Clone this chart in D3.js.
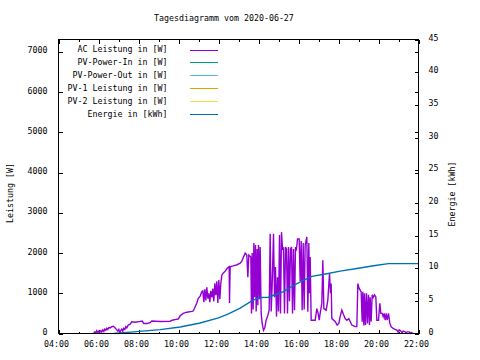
<!DOCTYPE html>
<html>
<head>
<meta charset="utf-8">
<script src="https://cdn.jsdelivr.net/npm/d3@7"></script>
<style>
  html, body { margin: 0; padding: 0; background: #fff; }
  svg { display: block; }
  text { font-family: "DejaVu Sans Mono", "Liberation Mono", monospace; font-size: 8.3px; fill: #000; }
</style>
</head>
<body>
<svg id="chart" width="480" height="360"></svg>
<script>
// ---------- data ----------
const titleText = "Tagesdiagramm vom 2020-06-27";
const yLabel = "Leistung [W]";
const y2Label = "Energie [kWh]";
const xDomain = ["04:00", "22:00"];
const xMajorTicks = ["04:00","06:00","08:00","10:00","12:00","14:00","16:00","18:00","20:00","22:00"];
const xMinorTicks = ["05:00","07:00","09:00","11:00","13:00","15:00","17:00","19:00","21:00"];
const yTicks = [0,1000,2000,3000,4000,5000,6000,7000];
const y2Ticks = [0,5,10,15,20,25,30,35,40,45];
const yMax = 7310;
const y2Max = 45;

const seriesNames = ["AC Leistung in [W]","PV-Power-In in [W]","PV-Power-Out in [W]","PV-1 Leistung in [W]","PV-2 Leistung in [W]","Energie in [kWh]"];
const seriesColors = ["#9400d3","#009e73","#56b4e9","#e69f00","#f0e442","#0072b2"];

const acTimes = [
"05:45","05:49","05:52","05:55","05:58","06:01","06:04","06:07","06:10","06:13",
"06:16","06:19","06:22","06:25","06:28","06:31","06:35","06:40","06:44","06:49",
"06:53","06:58","07:01","07:04","07:07","07:10","07:13","07:16","07:19","07:22",
"07:25","07:29","07:35","07:40","07:50","08:05","08:11","08:16","08:26","08:35",
"08:40","09:05","09:35","09:41","09:53","09:59","10:05","10:14","10:25","10:40",
"10:44","10:48","10:52","10:55","10:59","11:05","11:10","11:13","11:16","11:19",
"11:22","11:25","11:28","11:31","11:34","11:37","11:40","11:43","11:46","11:49",
"11:52","11:55","11:58","12:01","12:04","12:07","12:10","12:14","12:20","12:26",
"12:32","12:33","12:35","12:44","12:56","13:05","13:10","13:16","13:20","13:25",
"13:28","13:31","13:37","13:39","13:41","13:44","13:46","13:48","13:51","13:53",
"13:56","13:58","14:00","14:03","14:05","14:08","14:11","14:15","14:19","14:23",
"14:28","14:32","14:35","14:38","14:41","14:45","14:48","14:51","14:54","14:57",
"15:00","15:03","15:06","15:09","15:12","15:15","15:18","15:21","15:24","15:27",
"15:30","15:33","15:36","15:39","15:42","15:45","15:48","15:51","15:54","15:57",
"16:02","16:05","16:08","16:11","16:14","16:17","16:20","16:25","16:28","16:31",
"16:33","16:35","16:38","16:50","16:55","16:59","17:02","17:05","17:10","17:13",
"17:16","17:23","17:28","17:33","17:36","17:38","17:40","17:50","17:56","18:01",
"18:05","18:10","18:15","18:20","18:25","18:31","18:35","18:40","18:50","18:55",
"18:58","19:02","19:08","19:11","19:13","19:16","19:18","19:21","19:24","19:27",
"19:30","19:33","19:35","19:38","19:41","19:44","19:48","19:52","19:55","20:00",
"20:04","20:07","20:11","20:14","20:17","20:20","20:23","20:26","20:30","20:34",
"20:38","20:44","20:50","20:56","20:59","21:02","21:07","21:11","21:14","21:20",
"21:23","21:26","21:32","21:35","21:38","21:45"];
const acWatts = [
0,40,10,70,20,60,30,70,40,90,
50,110,80,130,100,150,140,170,180,150,
110,60,100,20,80,110,60,130,100,170,
140,210,230,290,280,300,310,250,250,270,
310,300,305,330,350,360,440,500,530,550,
560,620,700,760,870,930,1040,1060,780,1100,
820,1150,870,1000,780,1060,900,1120,800,1250,
950,1300,760,1330,850,1250,1450,1500,1550,1620,
1660,760,1660,1680,1710,1750,1800,1920,2000,1950,
1400,1950,1900,500,2000,600,2250,900,2200,550,
2100,700,2200,850,2150,500,250,80,150,330,
450,580,2480,550,1200,2480,900,1650,420,1400,
550,2450,500,2520,2100,2120,500,2150,2100,500,
2150,800,2100,2150,500,2100,580,2150,2100,2350,
2350,1300,2300,580,2250,600,2200,2400,540,2250,
1000,1900,330,330,620,500,330,500,750,1820,
620,580,830,1490,1000,1240,370,300,210,250,
420,580,470,370,330,370,300,210,170,170,
1240,1120,1035,290,1040,200,1000,210,1000,250,
960,210,900,300,960,900,960,910,330,330,
750,500,500,420,500,330,500,330,500,250,
165,125,100,80,30,90,60,20,60,40,
10,40,40,0,30,0];

const pvInTimes = [], pvInWatts = [];
const pvOutTimes = [], pvOutWatts = [];
const pv1Times = [], pv1Watts = [];
const pv2Times = [], pv2Watts = [];

const energyTimes = ["06:45","07:45","09:05","10:05","11:05","12:00","12:30","13:05","13:35","13:58","14:05","14:30","14:45","15:15","15:50","16:10","16:40","17:25","18:05","18:55","19:50","20:30","22:00"];
const energyKWh = [0,0.25,0.6,1.0,1.6,2.4,3.0,3.9,4.85,5.45,5.5,5.55,5.85,6.4,7.5,8.0,8.75,9.15,9.55,9.95,10.4,10.7,10.7];

// ---------- layout ----------
const m = {l: 58.5, r: 418.5, t: 39.5, b: 333.5};
const parse = d3.timeParse("%H:%M");
const svg = d3.select("#chart");

const x = d3.scaleTime().domain(xDomain.map(parse)).range([m.l, m.r]);
const y = d3.scaleLinear().domain([0, yMax]).range([m.b, m.t]);
const y2 = d3.scaleLinear().domain([0, y2Max]).range([m.b, m.t]);

function styleAxis(g) {
  g.select(".domain").remove();
  g.attr("font-family", null).attr("font-size", null);
  g.selectAll("line").attr("stroke", "#000").attr("shape-rendering", "crispEdges");
  g.selectAll("text").attr("fill", "#000");
}

// bottom axis (major + minor)
svg.append("g").attr("transform", `translate(0,${m.b})`)
  .call(d3.axisBottom(x).tickValues(xMajorTicks.map(parse)).tickSize(-4).tickSizeOuter(0)
    .tickPadding(13.5).tickFormat(d3.timeFormat("%H:%M")))
  .call(styleAxis)
  .call(g => g.selectAll("text").attr("dy", "0").attr("dx", "-2.5"));
svg.append("g").attr("transform", `translate(0,${m.b})`)
  .call(d3.axisBottom(x).tickValues(xMinorTicks.map(parse)).tickSize(-2).tickSizeOuter(0).tickFormat(""))
  .call(styleAxis);
// top mirror
svg.append("g").attr("transform", `translate(0,${m.t})`)
  .call(d3.axisTop(x).tickValues(xMajorTicks.map(parse)).tickSize(-4).tickSizeOuter(0).tickFormat(""))
  .call(styleAxis);
svg.append("g").attr("transform", `translate(0,${m.t})`)
  .call(d3.axisTop(x).tickValues(xMinorTicks.map(parse)).tickSize(-2).tickSizeOuter(0).tickFormat(""))
  .call(styleAxis);
// left axis
svg.append("g").attr("transform", `translate(${m.l},0)`)
  .call(d3.axisLeft(y).tickValues(yTicks).tickSize(-4).tickSizeOuter(0).tickPadding(11).tickFormat(d3.format("d")))
  .call(styleAxis)
  .call(g => g.selectAll("text").attr("dy", "1"));
// right mirror of y
svg.append("g").attr("transform", `translate(${m.r},0)`)
  .call(d3.axisRight(y).tickValues(yTicks).tickSize(-4).tickSizeOuter(0).tickFormat(""))
  .call(styleAxis);
// y2 axis
svg.append("g").attr("transform", `translate(${m.r},0)`)
  .call(d3.axisRight(y2).tickValues(y2Ticks).tickSize(-4).tickSizeOuter(0).tickPadding(10).tickFormat(d3.format("d")))
  .call(styleAxis)
  .call(g => g.selectAll("text").attr("dy", "0.5"));

// clip
svg.append("clipPath").attr("id", "plotclip")
  .append("rect").attr("x", m.l).attr("y", m.t).attr("width", m.r - m.l).attr("height", m.b - m.t);

const plot = svg.append("g").attr("clip-path", "url(#plotclip)");

const lineY = d3.line().x(d => x(d[0])).y(d => y(d[1]));
const lineY2 = d3.line().x(d => x(d[0])).y(d => y2(d[1]));
const zip = (ts, vs) => ts.map((t, i) => [parse(t), vs[i]]);

const seriesData = [
  {d: zip(acTimes, acWatts), f: lineY, c: seriesColors[0]},
  {d: zip(pvInTimes, pvInWatts), f: lineY, c: seriesColors[1]},
  {d: zip(pvOutTimes, pvOutWatts), f: lineY, c: seriesColors[2]},
  {d: zip(pv1Times, pv1Watts), f: lineY, c: seriesColors[3]},
  {d: zip(pv2Times, pv2Watts), f: lineY, c: seriesColors[4]},
  {d: zip(energyTimes, energyKWh), f: lineY2, c: seriesColors[5]}
];
seriesData.forEach(s => {
  if (!s.d.length) return;
  plot.append("path").datum(s.d).attr("d", s.f).attr("fill", "none")
    .attr("stroke", s.c).attr("stroke-width", 1.4).attr("stroke-linejoin", "miter");
});

// border
svg.append("rect").attr("x", m.l).attr("y", m.t).attr("width", m.r - m.l).attr("height", m.b - m.t)
  .attr("fill", "none").attr("stroke", "#000").attr("shape-rendering", "crispEdges");

// legend
const leg = svg.append("g");
seriesNames.forEach((n, i) => {
  const ly = 49.5 + i * 12.95;
  leg.append("text").attr("x", 167.5).attr("y", ly + 2.5).attr("text-anchor", "end").text(n);
  leg.append("line").attr("x1", 190).attr("x2", 218).attr("y1", Math.round(ly) + 0.5).attr("y2", Math.round(ly) + 0.5)
    .attr("stroke", seriesColors[i]).attr("stroke-width", 1);
});

// title and axis labels
svg.append("text").attr("x", 154).attr("y", 21).text(titleText);
svg.append("text").attr("transform", "translate(12.5,193) rotate(-90)").attr("text-anchor", "middle").text(yLabel);
svg.append("text").attr("transform", "translate(455,194) rotate(-90)").attr("text-anchor", "middle").text(y2Label);
</script>
</body>
</html>
